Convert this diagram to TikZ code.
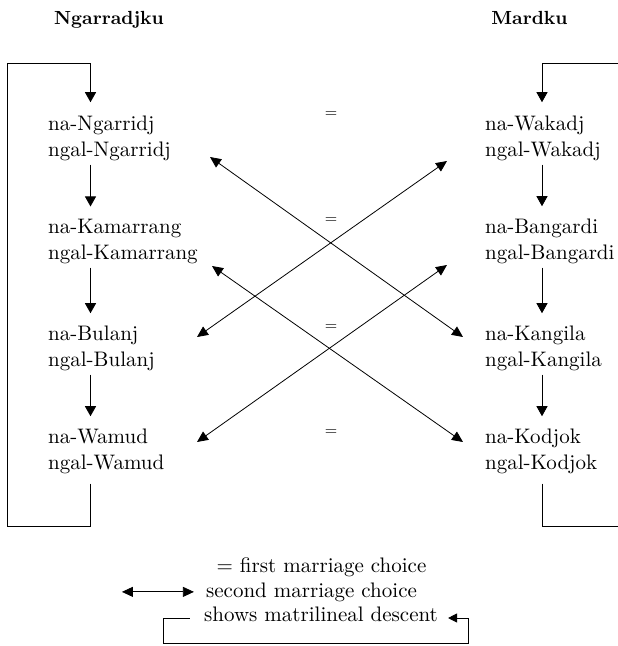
\documentclass[tikz,border=0pt]{standalone}
\usepackage{fontspec}
\setmainfont{lmroman10-regular.otf}[BoldFont=lmroman10-bold.otf]
\usetikzlibrary{arrows.meta,calc}
\begin{document}
\begin{tikzpicture}[x=1pt,y=-1pt,
  namebox/.style={font=\fontsize{21}{26}\selectfont, align=left, inner sep=0pt, anchor=base west},
  heading/.style={font=\fontsize{19}{23}\selectfont\bfseries, inner sep=0pt, anchor=base},
  eqsign/.style={font=\fontsize{16}{20}\selectfont, inner sep=0pt, anchor=base},
  legendtext/.style={font=\fontsize{21}{25}\selectfont, inner sep=0pt, anchor=base},
  rule/.style={line width=0.9pt},
  down/.style={rule, -{Triangle[length=10pt,width=11pt]}},
  twoway/.style={line width=0.8pt, {Triangle[length=11pt,width=10pt]}-{Triangle[length=11pt,width=10pt]}},
]
\useasboundingbox (0,0) rectangle (618,646);

% moiety headings
\node[heading] (hL) at (109,24) {Ngarradjku};
\node[heading] (hR) at (529.5,24) {Mardku};

% subsection names, Ngarradjku side (placed by the baseline of the lower line)
\node[namebox] (ngar) at (48,156) {na-Ngarridj\\ngal-Ngarridj};
\node[namebox] (kama) at (48,259) {na-Kamarrang\\ngal-Kamarrang};
\node[namebox] (bula) at (48,366) {na-Bulanj\\ngal-Bulanj};
\node[namebox] (wamu) at (48,469) {na-Wamud\\ngal-Wamud};

% subsection names, Mardku side
\node[namebox] (waka) at (485,156) {na-Wakadj\\ngal-Wakadj};
\node[namebox] (bang) at (485,259) {na-Bangardi\\ngal-Bangardi};
\node[namebox] (kang) at (485,366) {na-Kangila\\ngal-Kangila};
\node[namebox] (kodj) at (485,469) {na-Kodjok\\ngal-Kodjok};

% first marriage choice marks
\node[eqsign] (eq1) at (331,117) {=};
\node[eqsign] (eq2) at (331,223) {=};
\node[eqsign] (eq3) at (331,330) {=};
\node[eqsign] (eq4) at (331,435) {=};

% column axes and loop corners
\coordinate (colL) at (90.5,0);
\coordinate (colR) at (542,0);
\coordinate (loopLT) at (7.5,63);
\coordinate (loopLB) at (7.5,526);
\coordinate (loopRT) at (618,63);
\coordinate (loopRB) at (618,526);

% matrilineal descent, Ngarradjku
\draw[down] ($(ngar.south -| colL)+(0,4)$) -- ($(kama.north -| colL)+(0,-12)$);
\draw[down] ($(kama.south -| colL)+(0,4)$) -- ($(bula.north -| colL)+(0,-12)$);
\draw[down] ($(bula.south -| colL)+(0,4)$) -- ($(wamu.north -| colL)+(0,-12)$);
\draw[down] ($(wamu.south -| colL)+(0,10)$) -- (colL |- loopLB) -- (loopLB) -- (loopLT)
  -- (colL |- loopLT) -- ($(ngar.north -| colL)+(0,-13)$);

% matrilineal descent, Mardku
\draw[down] ($(waka.south -| colR)+(0,4)$) -- ($(bang.north -| colR)+(0,-12)$);
\draw[down] ($(bang.south -| colR)+(0,4)$) -- ($(kang.north -| colR)+(0,-12)$);
\draw[down] ($(kang.south -| colR)+(0,4)$) -- ($(kodj.north -| colR)+(0,-12)$);
\draw[down] (loopRT) -- (colR |- loopRT) -- ($(waka.north -| colR)+(0,-13)$);
\draw[rule] ($(kodj.south -| colR)+(0,10)$) -- (colR |- loopRB) -- (loopRB);

% second marriage choice ends
\coordinate (aL1) at (210,157);
\coordinate (aR3) at (463,337);
\coordinate (aR1) at (447,161);
\coordinate (aL3) at (197,337);
\coordinate (aL2) at (212,266);
\coordinate (aR4) at (463,442);
\coordinate (aR2) at (447,265);
\coordinate (aL4) at (197,442);

\draw[twoway] (aL1) -- (aR3);
\draw[twoway] (aR1) -- (aL3);
\draw[twoway] (aL2) -- (aR4);
\draw[twoway] (aR2) -- (aL4);

% legend
\node[legendtext] (lg1) at (321.5,572) {= first marriage choice};
\node[legendtext] (lg2) at (311.5,597) {second marriage choice};
\node[legendtext] (lg3) at (321,621) {shows matrilineal descent};

\coordinate (keyA) at ($(lg2.west)+(-84,0)$);
\coordinate (keyB) at ($(lg2.west)+(-12,0)$);
\draw[twoway] (keyA) -- (keyB);

\coordinate (brL) at (163,618);
\coordinate (brR) at (468,643);
\draw[rule, -{Triangle[length=9pt,width=9pt]}] (lg3.west |- brL) ++(-14,0) -- (brL) -- (brL |- brR)
  -- (brR) -- (brR |- brL) -- ($(lg3.east |- brL)+(10,0)$);
\end{tikzpicture}
\end{document}
